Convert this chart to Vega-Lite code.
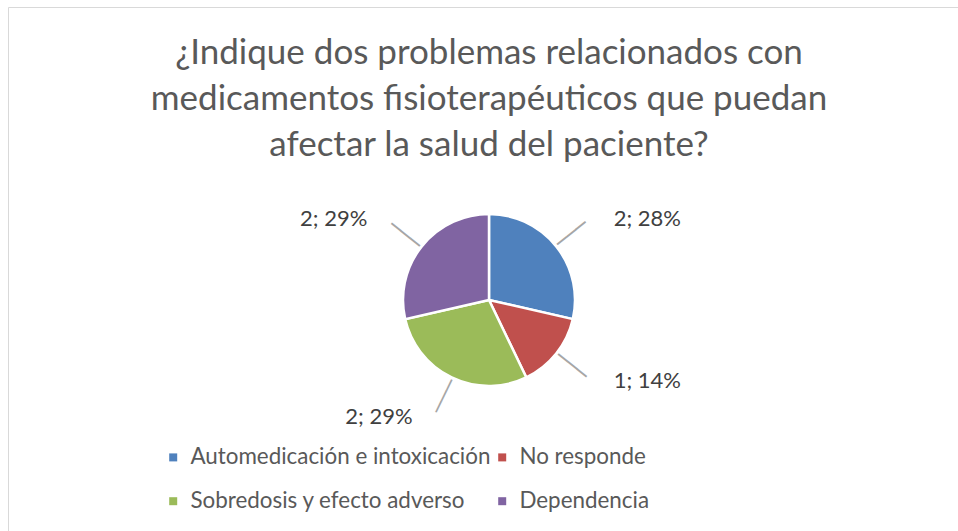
{
  "$schema": "https://vega.github.io/schema/vega-lite/v6.json",
  "width": 950,
  "height": 524,
  "autosize": {"type": "none"},
  "padding": {"left": 8, "top": 7, "right": 0, "bottom": 0},
  "background": "white",
  "view": {"stroke": "#d9d9d9", "strokeWidth": 1, "fill": "white"},
  "config": {
    "view": {"stroke": "#d9d9d9", "strokeWidth": 1},
    "font": "Lato"
  },
  "title": {
    "text": ["¿Indique dos problemas relacionados con", "medicamentos fisioterapéuticos que puedan", "afectar la salud del paciente?"],
    "font": "Lato",
    "fontSize": 35,
    "fontWeight": "normal",
    "color": "#595959",
    "lineHeight": 46,
    "anchor": "middle",
    "dx": 6,
    "offset": -156
  },
  "data": {
    "values": [
      {"i": 1, "category": "Automedicación e intoxicación", "count": 2, "label": "2; 28%"},
      {"i": 2, "category": "No responde", "count": 1, "label": "1; 14%"},
      {"i": 3, "category": "Sobredosis y efecto adverso", "count": 2, "label": "2; 29%"},
      {"i": 4, "category": "Dependencia", "count": 2, "label": "2; 29%"}
    ]
  },
  "encoding": {
    "theta": {"field": "count", "type": "quantitative", "stack": true},
    "order": {"field": "i", "type": "quantitative"},
    "color": {
      "field": "category",
      "type": "nominal",
      "scale": {
        "domain": ["Automedicación e intoxicación", "No responde", "Sobredosis y efecto adverso", "Dependencia"],
        "range": ["#4F81BD", "#C0504D", "#9BBB59", "#8064A2"]
      },
      "legend": {
        "orient": "none",
        "legendX": 154,
        "legendY": 439,
        "direction": "horizontal",
        "columns": 2,
        "title": null,
        "symbolType": "square",
        "symbolSize": 64,
        "symbolStrokeWidth": 0,
        "labelFont": "Lato",
        "labelFontSize": 22.4,
        "labelColor": "#595959",
        "labelOffset": 6,
        "labelLimit": 500,
        "columnPadding": -6,
        "rowPadding": 21
      }
    }
  },
  "layer": [
    {
      "mark": {"type": "arc", "outerRadius": 86, "stroke": "white", "strokeWidth": 2.5, "x": 481, "y": 293}
    },
    {
      "mark": {
        "type": "text",
        "radius": 106,
        "x": 481,
        "y": 293,
        "font": "DejaVu Sans",
        "fontSize": 20,
        "baseline": "middle",
        "align": "center",
        "angle": {"expr": "scale('theta', (datum.count_start + datum.count_end) / 2) * 180 / PI - 90"}
      },
      "encoding": {
        "text": {"value": "───"},
        "color": {"value": "#a6a6a6"}
      }
    },
    {
      "mark": {
        "type": "text",
        "radius": 130,
        "x": 481,
        "y": 293,
        "font": "Lato",
        "fontSize": 22,
        "baseline": "middle",
        "align": {"expr": "(datum.count_start + datum.count_end) / 2 < 3.5 ? 'left' : 'right'"},
        "dx": {"expr": "(datum.count_start + datum.count_end) / 2 < 3.5 ? 23 : -20"}
      },
      "encoding": {
        "text": {"field": "label", "type": "nominal"},
        "color": {"value": "#404040"}
      }
    }
  ]
}
